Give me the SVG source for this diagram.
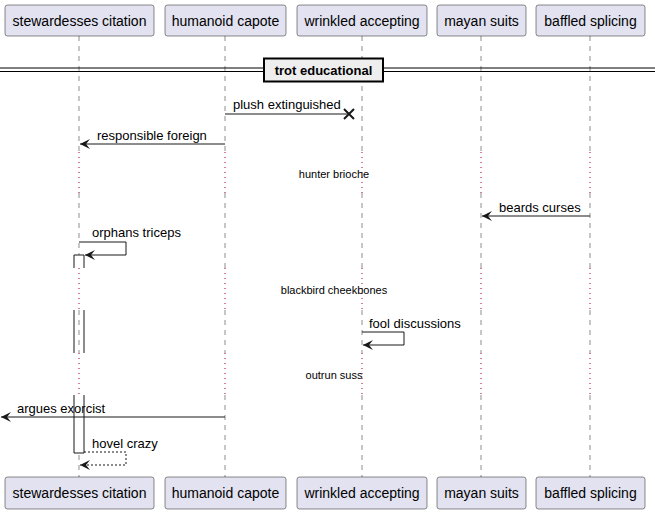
<svg xmlns="http://www.w3.org/2000/svg" width="655" height="514" viewBox="0 0 655 514">
<style>
.box{fill:#E2E2F0;stroke:#181818;stroke-width:0.5}
.pt{font-family:"Liberation Sans",Arial,sans-serif;font-size:14px;fill:#000;text-anchor:middle}
.life{stroke:#181818;stroke-width:0.5;stroke-dasharray:5,5;fill:none}
.dly{stroke:#A80036;stroke-width:1;stroke-dasharray:1,4;fill:none}
.msg{stroke:#181818;stroke-width:1;fill:none}
.dash{stroke:#181818;stroke-width:1;stroke-dasharray:2,2;fill:none}
.mt{font-family:"Liberation Sans",Arial,sans-serif;font-size:13px;fill:#000}
.dt{font-family:"Liberation Sans",Arial,sans-serif;font-size:11px;fill:#000;text-anchor:middle}
.act{fill:#FFFFFF;stroke:#181818;stroke-width:1}
</style>
<defs>
<marker id="ah" markerWidth="12" markerHeight="10" refX="11" refY="5" orient="auto" markerUnits="userSpaceOnUse">
<path d="M1,0 L11,5 L1,10 L5,5 Z" fill="#181818"/>
</marker>
</defs>
<g id="lifelines">
<path class="life" d="M79,36 V152 M79,193 V268 M79,310 V353 M79,395 V477"/>
<path class="dly" d="M79,152 V193 M79,268 V310 M79,353 V395"/>
<path class="life" d="M225,36 V152 M225,193 V268 M225,310 V353 M225,395 V477"/>
<path class="dly" d="M225,152 V193 M225,268 V310 M225,353 V395"/>
<path class="life" d="M362,36 V152 M362,193 V268 M362,310 V353 M362,395 V477"/>
<path class="dly" d="M362,152 V193 M362,268 V310 M362,353 V395"/>
<path class="life" d="M481,36 V152 M481,193 V268 M481,310 V353 M481,395 V477"/>
<path class="dly" d="M481,152 V193 M481,268 V310 M481,353 V395"/>
<path class="life" d="M590,36 V152 M590,193 V268 M590,310 V353 M590,395 V477"/>
<path class="dly" d="M590,152 V193 M590,268 V310 M590,353 V395"/>
</g>
<g id="activations">
<path class="act" d="M84,268 V255 H74 V268" />
<path class="act" d="M74,310 V353 M84,310 V353" fill="none"/>
<path class="act" d="M74,395 V453 H84 V395"/>
</g>
<g id="divider">
<line x1="0" y1="68" x2="655" y2="68" stroke="#000" stroke-width="1"/>
<line x1="0" y1="71.5" x2="655" y2="71.5" stroke="#000" stroke-width="1"/>
<rect x="264" y="58.5" width="119" height="23" fill="#EEEEEE" stroke="#000" stroke-width="2"/>
<text x="323.5" y="75" font-family="Liberation Sans,Arial,sans-serif" font-size="13" font-weight="bold" text-anchor="middle">trot educational</text>
</g>
<g id="connectors">
<line class="msg" x1="225" y1="114" x2="349" y2="114"/>
<path d="M344,109 L354,119 M354,109 L344,119" stroke="#181818" stroke-width="2"/>
<text class="mt" x="233" y="109">plush extinguished</text>
<line class="msg" x1="225" y1="144" x2="80" y2="144" marker-end="url(#ah)"/>
<text class="mt" x="97" y="140">responsible foreign</text>
<line class="msg" x1="590" y1="216" x2="482" y2="216" marker-end="url(#ah)"/>
<text class="mt" x="499" y="212">beards curses</text>
<path class="msg" d="M79,242 H126 V255 H85" marker-end="url(#ah)"/>
<text class="mt" x="92" y="237">orphans triceps</text>
<path class="msg" d="M362,332 H404 V345 H363" marker-end="url(#ah)"/>
<text class="mt" x="369" y="328">fool discussions</text>
<line class="msg" x1="225" y1="417" x2="1" y2="417" marker-end="url(#ah)"/>
<text class="mt" x="17" y="413">argues exorcist</text>
<path class="dash" d="M84,452 H126 V465 H80" marker-end="url(#ah)"/>
<text class="mt" x="92" y="448">hovel crazy</text>
</g>
<g id="delays">
<text class="dt" x="334" y="178">hunter brioche</text>
<text class="dt" x="334" y="294">blackbird cheekbones</text>
<text class="dt" x="334" y="379">outrun suss</text>
</g>
<g id="p-stewardesses">
<rect class="box" x="5" y="5" width="149" height="31" rx="2.5"/>
<text class="pt" x="79.5" y="26">stewardesses citation</text>
<rect class="box" x="5" y="477" width="149" height="32" rx="2.5"/>
<text class="pt" x="79.5" y="498">stewardesses citation</text>
</g>
<g id="p-humanoid">
<rect class="box" x="165" y="5" width="121" height="31" rx="2.5"/>
<text class="pt" x="225.5" y="26">humanoid capote</text>
<rect class="box" x="165" y="477" width="121" height="32" rx="2.5"/>
<text class="pt" x="225.5" y="498">humanoid capote</text>
</g>
<g id="p-wrinkled">
<rect class="box" x="297" y="5" width="130" height="31" rx="2.5"/>
<text class="pt" x="362" y="26">wrinkled accepting</text>
<rect class="box" x="297" y="477" width="130" height="32" rx="2.5"/>
<text class="pt" x="362" y="498">wrinkled accepting</text>
</g>
<g id="p-mayan">
<rect class="box" x="437" y="5" width="89" height="31" rx="2.5"/>
<text class="pt" x="481.5" y="26">mayan suits</text>
<rect class="box" x="437" y="477" width="89" height="32" rx="2.5"/>
<text class="pt" x="481.5" y="498">mayan suits</text>
</g>
<g id="p-baffled">
<rect class="box" x="536" y="5" width="109" height="31" rx="2.5"/>
<text class="pt" x="590.5" y="26">baffled splicing</text>
<rect class="box" x="536" y="477" width="109" height="32" rx="2.5"/>
<text class="pt" x="590.5" y="498">baffled splicing</text>
</g>
</svg>
